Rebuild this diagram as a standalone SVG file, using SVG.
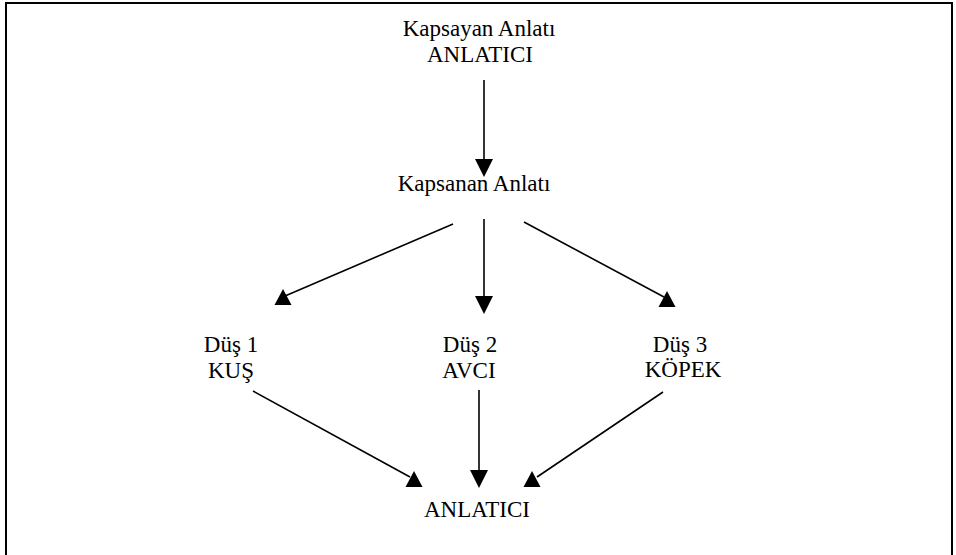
<svg xmlns="http://www.w3.org/2000/svg" xmlns:xlink="http://www.w3.org/1999/xlink" width="956" height="555" viewBox="0 0 956 555">
<style>
text{font-family:"Liberation Serif","Times New Roman",serif;font-size:23px;fill:#000;text-anchor:middle}
.ln{stroke:#000;stroke-width:1.6;fill:none}
.hd{fill:#000}
</style>
<defs>
<path id="up" d="M0,-8 L8.5,8 L-8.5,8 Z"/>
<path id="dn" d="M-9,-9 L9,-9 L0,9 Z"/>
</defs>
<rect width="956" height="555" fill="#fff"/>
<path d="M6,555 V3 H952 V555" stroke="#000" stroke-width="2" fill="none"/>
<g id="n-top">
<text x="479" y="36">Kapsayan Anlatı</text>
<text x="480" y="62">ANLATICI</text>
</g>
<g id="n-mid">
<text x="474" y="191">Kapsanan Anlatı</text>
</g>
<g id="n-dus1">
<text x="231" y="352">Düş 1</text>
<text x="231" y="378">KUŞ</text>
</g>
<g id="n-dus2">
<text x="470" y="352">Düş 2</text>
<text x="469" y="378">AVCI</text>
</g>
<g id="n-dus3">
<text x="680" y="352">Düş 3</text>
<text x="683" y="377">KÖPEK</text>
</g>
<g id="n-bottom">
<text x="477" y="517">ANLATICI</text>
</g>
<g id="connectors">
<line class="ln" x1="484" y1="80" x2="484" y2="165"/>
<use href="#dn" x="484" y="168" class="hd"/>
<line class="ln" x1="484" y1="219" x2="484" y2="300"/>
<use href="#dn" x="484" y="305" class="hd"/>
<line class="ln" x1="453" y1="224" x2="285" y2="296"/>
<use href="#up" x="283" y="297" class="hd"/>
<line class="ln" x1="524" y1="222" x2="664" y2="297"/>
<use href="#up" x="667" y="299" class="hd"/>
<line class="ln" x1="253" y1="391" x2="410" y2="477"/>
<use href="#up" x="414" y="479" class="hd"/>
<line class="ln" x1="479" y1="390" x2="479" y2="472"/>
<use href="#dn" x="479" y="479" class="hd"/>
<line class="ln" x1="663" y1="392" x2="537" y2="477"/>
<use href="#up" x="532" y="479" class="hd"/>
</g>
</svg>
